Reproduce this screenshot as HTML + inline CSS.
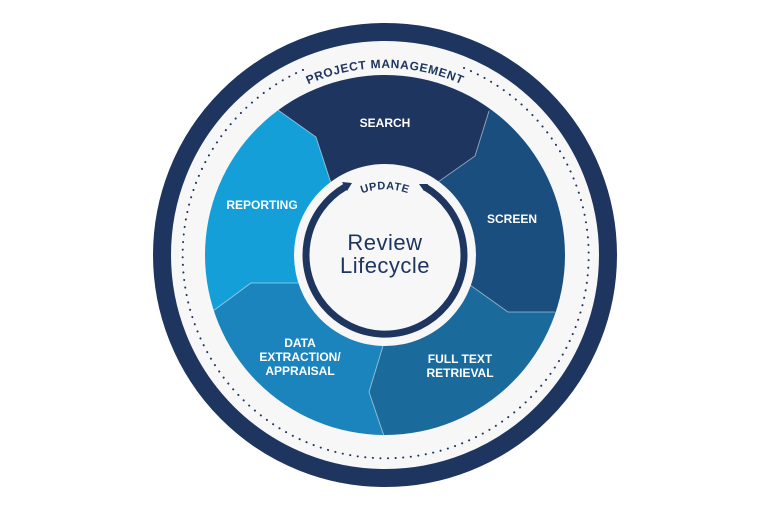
<!DOCTYPE html>
<html><head><meta charset="utf-8"><style>
html,body{margin:0;padding:0;background:#fff;width:768px;height:512px;overflow:hidden;}
svg{display:block;font-family:"Liberation Sans",sans-serif;}
</style></head><body>
<svg width="768" height="512" viewBox="0 0 768 512" xmlns="http://www.w3.org/2000/svg">
<defs>
<clipPath id="c"><circle cx="385" cy="255" r="180"/></clipPath>
<path id="pm" d="M223,161.5 A187 187 0 0 1 547,161.5"/>
<path id="up" d="M328,222 A66 66 0 0 1 442,222"/>
</defs>
<circle cx="385" cy="255" r="223" fill="#f7f7f8" stroke="#1e3560" stroke-width="18"/>
<path d="M464,68 A203 203 0 1 1 305,69" fill="none" stroke="#1e3560" stroke-width="2" stroke-dasharray="0.1 7.5" stroke-linecap="round"/>
<text font-size="12" font-weight="bold" fill="#1e3560" letter-spacing="0.6"><textPath href="#pm" startOffset="50%" text-anchor="middle">PROJECT MANAGEMENT</textPath></text>
<g clip-path="url(#c)">
<polygon fill="#1e3560" points="385,255 331,183 316,137 278,110 171,-35 593,-33 489,111 475,156 438,182"/>
<polygon fill="#1a4e7e" points="385,255 438,182 475,156 489,111 593,-33 800,-33 800,369 725,369 555,312 508,312 470,285"/>
<polygon fill="#1a6a9c" points="385,255 470,285 508,312 555,312 725,369 800,369 800,700 383,617 384,436 369,392 383,346"/>
<polygon fill="#1b84bc" points="385,255 383,346 369,392 384,436 383,617 0,617 0,367 41,367 213,311 251,283 298,283"/>
<polygon fill="#159fd8" points="385,255 298,283 251,283 213,311 41,367 0,367 0,-35 171,-35 278,110 316,137 331,183"/>
<g fill="none" stroke="#ffffff" stroke-opacity="0.45" stroke-width="1">
<polyline points="331,183 316,137 278,110"/>
<polyline points="438,182 475,156 489,111"/>
<polyline points="470,285 508,312 555,312"/>
<polyline points="383,346 369,392 384,436"/>
<polyline points="298,283 251,283 213,311"/>
</g>
</g>
<circle cx="385" cy="255" r="91" fill="#f7f7f8"/>
<path d="M425,187 A79 79 0 1 1 345,187" fill="none" stroke="#1e3560" stroke-width="7"/>
<polygon fill="#1e3560" points="352,183 342,182 347,191"/>
<polygon fill="#1e3560" points="419,184 428,184 424,191"/>
<text font-size="11" font-weight="bold" fill="#1e3560" letter-spacing="0.5"><textPath href="#up" startOffset="50%" text-anchor="middle">UPDATE</textPath></text>
<g font-size="22" fill="#1e3560" text-anchor="middle" letter-spacing="0.5">
<text x="385" y="250">Review</text>
<text x="385" y="273">Lifecycle</text>
</g>
<g font-size="12" font-weight="bold" fill="#ffffff" text-anchor="middle">
<text x="385" y="127">SEARCH</text>
<text x="262" y="209">REPORTING</text>
<text x="512" y="223">SCREEN</text>
<text x="460" y="363">FULL TEXT</text>
<text x="460" y="377">RETRIEVAL</text>
<text x="300" y="347">DATA</text>
<text x="300" y="361">EXTRACTION/</text>
<text x="300" y="375">APPRAISAL</text>
</g>
</svg>
</body></html>
